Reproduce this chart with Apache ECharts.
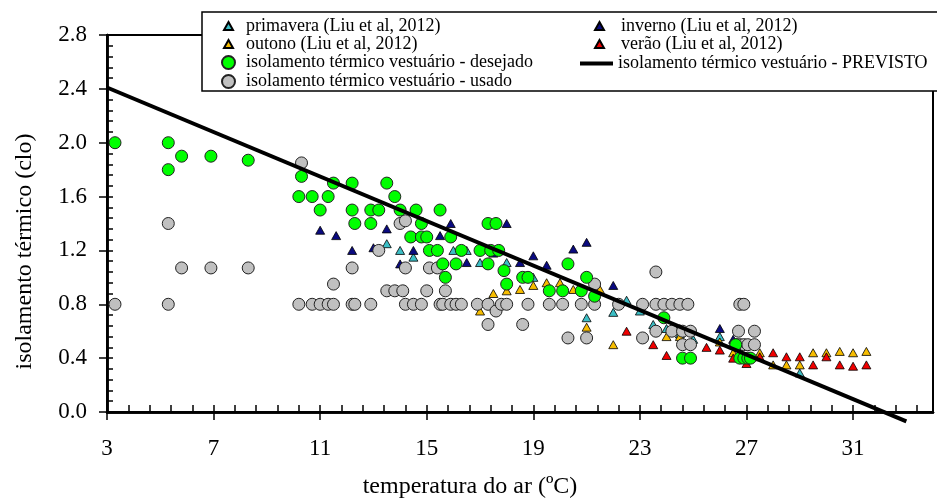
<!DOCTYPE html>
<html>
<head>
<meta charset="utf-8">
<script src="https://cdn.jsdelivr.net/npm/echarts@6/dist/echarts.min.js"></script>
<style>
  html, body { margin: 0; padding: 0; background: #fff; }
  #chart { width: 937px; height: 504px; }
</style>
</head>
<body>
<div id="chart"></div>
<script>
// primavera (Liu et al, 2012)
var primavera = [
  [13.5, 1.25], [14.0, 1.2], [14.5, 1.15], [16.0, 1.2], [16.5, 1.2], [17.0, 1.11],
  [18.0, 1.11], [19.0, 1.0], [21.0, 0.7], [22.0, 0.74], [22.5, 0.83], [23.0, 0.75],
  [23.5, 0.65], [24.0, 0.62], [24.5, 0.58], [25.0, 0.54], [26.0, 0.56], [26.5, 0.5],
  [29.0, 0.29]
];
// outono (Liu et al, 2012)
var outono = [
  [17.0, 0.75], [17.5, 0.88], [18.0, 0.9], [18.5, 0.91], [19.0, 0.94], [19.5, 0.96],
  [20.0, 0.96], [20.5, 0.91], [21.0, 0.63], [21.5, 0.91], [22.0, 0.5], [24.0, 0.56],
  [24.5, 0.56], [26.0, 0.52], [26.5, 0.44], [27.5, 0.44], [28.0, 0.35], [28.5, 0.35],
  [29.0, 0.35], [29.5, 0.44], [30.0, 0.44], [30.5, 0.45], [31.0, 0.44], [31.5, 0.45]
];
// inverno (Liu et al, 2012)
var inverno = [
  [11.0, 1.35], [11.6, 1.31], [12.2, 1.2], [13.0, 1.22], [13.5, 1.36], [14.0, 1.1],
  [14.5, 1.2], [15.5, 1.31], [15.9, 1.4], [16.5, 1.11], [17.5, 1.18], [18.0, 1.4],
  [18.5, 1.11], [19.0, 1.16], [19.5, 1.09], [20.5, 1.21], [21.0, 1.26], [22.0, 0.94],
  [26.0, 0.62], [26.5, 0.54]
];
// verão (Liu et al, 2012)
var verao = [
  [22.5, 0.6], [23.5, 0.5], [24.0, 0.42], [24.5, 0.62], [25.5, 0.48], [26.0, 0.46],
  [26.5, 0.4], [27.0, 0.36], [27.5, 0.41], [28.0, 0.44], [28.5, 0.41], [29.0, 0.41],
  [29.5, 0.35], [30.0, 0.41], [30.5, 0.35], [31.0, 0.34], [31.5, 0.35]
];
// isolamento térmico vestuário - desejado
var desejado = [
  [3.3, 2.0], [5.3, 2.0], [5.3, 1.8], [5.8, 1.9], [6.9, 1.9], [8.3, 1.87],
  [10.3, 1.75], [10.2, 1.6], [10.7, 1.6], [11.3, 1.6], [11.5, 1.7], [11.0, 1.5],
  [12.2, 1.7], [12.2, 1.5], [12.9, 1.5], [13.2, 1.5], [12.3, 1.4], [12.9, 1.4],
  [13.5, 1.7], [13.8, 1.6], [14.0, 1.5], [14.6, 1.5], [15.5, 1.5], [14.8, 1.4],
  [14.4, 1.3], [14.8, 1.3], [15.0, 1.3], [15.9, 1.3], [15.1, 1.2], [15.4, 1.2],
  [16.3, 1.2], [17.0, 1.2], [17.4, 1.2], [17.7, 1.2], [15.6, 1.1], [16.1, 1.1],
  [15.7, 1.0], [17.3, 1.4], [17.6, 1.4], [17.3, 1.1], [17.9, 1.05], [18.0, 0.95],
  [18.6, 1.0], [18.8, 1.0], [20.3, 1.1], [21.0, 1.0], [19.6, 0.9], [20.1, 0.9],
  [20.8, 0.9], [21.3, 0.86], [23.9, 0.7], [24.6, 0.4], [24.9, 0.4], [26.6, 0.5],
  [26.75, 0.4], [26.9, 0.4], [27.05, 0.4], [27.15, 0.4]
];
// isolamento térmico vestuário - usado
var usado = [
  [3.3, 0.8], [5.3, 1.4], [5.3, 0.8], [5.8, 1.07], [6.9, 1.07], [8.3, 1.07],
  [10.3, 1.85], [10.2, 0.8], [10.7, 0.8], [11.0, 0.8], [11.3, 0.8], [11.5, 0.8],
  [11.5, 0.95], [12.2, 0.8], [12.3, 0.8], [12.9, 0.8], [12.2, 1.07], [13.2, 1.2],
  [13.5, 0.9], [13.8, 0.9], [14.1, 0.9], [14.0, 1.4], [14.2, 1.42], [14.2, 1.07],
  [14.2, 0.8], [14.5, 0.8], [14.8, 0.8], [15.0, 0.9], [15.1, 1.07], [15.4, 1.07],
  [15.5, 0.8], [15.6, 0.8], [15.7, 0.9], [15.9, 0.8], [16.1, 0.8], [16.3, 0.8],
  [16.9, 0.8], [17.3, 0.8], [17.3, 0.65], [17.6, 0.75], [17.8, 0.8], [18.0, 0.8],
  [18.6, 0.65], [18.8, 0.8], [19.6, 0.8], [20.1, 0.8], [20.3, 0.55], [20.8, 0.8],
  [21.0, 0.55], [21.3, 0.8], [21.3, 0.95], [22.2, 0.8], [23.1, 0.8], [23.1, 0.55],
  [23.6, 1.04], [23.6, 0.8], [23.9, 0.8], [24.2, 0.8], [24.5, 0.8], [24.8, 0.8],
  [23.6, 0.6], [24.2, 0.6], [24.6, 0.6], [24.9, 0.6], [24.6, 0.5], [24.9, 0.5],
  [26.75, 0.8], [26.9, 0.8], [26.7, 0.6], [27.3, 0.6], [26.6, 0.5], [26.75, 0.5],
  [26.9, 0.5], [27.05, 0.5], [27.3, 0.5]
];
// isolamento térmico vestuário - PREVISTO
var previsto = [[3, 2.41], [33, -0.07]];

var xTicks = { min: 3, max: 34, step: 4, minorStep: 0.8 };
var yTicks = { min: 0, max: 2.8, step: 0.4, minorStep: 0.08 };

var font = "Liberation Serif";

function tri(name, data, color) {
  return {
    name: name,
    type: "scatter",
    data: data,
    symbol: "triangle",
    symbolSize: [9, 8],
    itemStyle: { color: color, borderColor: "#000", borderWidth: 0.8, opacity: 1 }
  };
}
function dot(name, data, color) {
  return {
    name: name,
    type: "scatter",
    data: data,
    symbol: "circle",
    symbolSize: 12,
    itemStyle: { color: color, borderColor: "#222", borderWidth: 1, opacity: 1 }
  };
}
function legend(names, left, top, w, h, lh, pad) {
  return {
    data: names,
    orient: "vertical",
    left: left,
    top: top,
    itemWidth: w,
    itemHeight: h,
    itemGap: 0,
    selectedMode: false,
    z: 110,
    padding: 0,
    textStyle: {
      fontFamily: font,
      fontSize: 18,
      color: "#000",
      lineHeight: lh,
      padding: [0, 0, 0, pad]
    }
  };
}

var option = {
  animation: false,
  backgroundColor: "#fff",
  grid: {
    left: 107,
    right: 4,
    top: 35,
    bottom: 89,
    show: true,
    backgroundColor: "transparent",
    borderColor: "#000",
    borderWidth: 2,
    containLabel: false
  },
  xAxis: [
    {
      type: "value",
      position: "bottom",
      min: xTicks.min,
      max: xTicks.max,
      interval: xTicks.step,
      name: "temperatura do ar (ºC)",
      nameLocation: "middle",
      nameGap: 63,
      nameTextStyle: { fontFamily: font, fontSize: 24, color: "#000", padding: [0, 100, 0, 0] },
      axisLine: { show: true, onZero: false, lineStyle: { color: "#000", width: 2.5 } },
      axisTick: { show: true, inside: false, length: 8, lineStyle: { color: "#000", width: 1.5 } },
      axisLabel: { fontFamily: font, fontSize: 23, color: "#000", margin: 25, showMaxLabel: false },
      splitLine: { show: false }
    },
    {
      // minor ticks pointing into the plot
      type: "value",
      position: "bottom",
      min: xTicks.min,
      max: xTicks.max,
      interval: xTicks.minorStep,
      axisLine: { show: true, onZero: false, lineStyle: { color: "#000", width: 2.5 } },
      axisTick: { show: true, inside: true, length: 7, lineStyle: { color: "#000", width: 1.5 } },
      axisLabel: { show: false },
      splitLine: { show: false }
    }
  ],
  yAxis: [
    {
      type: "value",
      position: "left",
      min: yTicks.min,
      max: yTicks.max,
      interval: yTicks.step,
      name: "isolamento térmico (clo)",
      nameLocation: "middle",
      nameGap: 70,
      nameTextStyle: { fontFamily: font, fontSize: 24, color: "#000", padding: [0, 56, 0, 0] },
      axisLine: { show: true, onZero: false, lineStyle: { color: "#000", width: 2.5 } },
      axisTick: { show: true, inside: false, length: 8, lineStyle: { color: "#000", width: 1.5 } },
      axisLabel: {
        fontFamily: font, fontSize: 23, color: "#000", margin: 20,
        formatter: function (v) { return v.toFixed(1); }
      },
      splitLine: { show: false }
    },
    {
      // minor ticks pointing into the plot
      type: "value",
      position: "left",
      min: yTicks.min,
      max: yTicks.max,
      interval: yTicks.minorStep,
      axisLine: { show: true, onZero: false, lineStyle: { color: "#000", width: 2.5 } },
      axisTick: { show: true, inside: true, length: 6, lineStyle: { color: "#000", width: 1.5 } },
      axisLabel: { show: false },
      splitLine: { show: false }
    }
  ],
  graphic: [
    {
      type: "rect",
      z: 100,
      shape: { x: 202, y: 12, width: 760, height: 79 },
      style: { fill: "#fff", stroke: "#000", lineWidth: 1.5 }
    }
  ],
  legend: [
    legend(["primavera (Liu et al, 2012)", "outono (Liu et al, 2012)"], 223, 17, 9, 8, 17, 8),
    legend(["isolamento térmico vestuário - desejado", "isolamento térmico vestuário - usado"], 221, 53, 13, 13, 19, 6),
    legend(["inverno (Liu et al, 2012)", "verão (Liu et al, 2012)"], 594, 17, 9, 8, 17, 12),
    legend([{ name: "isolamento térmico vestuário - PREVISTO", icon: "rect" }], 580, 54, 33, 4, 19, 0)
  ],
  series: [
    tri("primavera (Liu et al, 2012)", primavera, "#3cbfc6"),
    tri("outono (Liu et al, 2012)", outono, "#f7bd00"),
    tri("inverno (Liu et al, 2012)", inverno, "#0a0a80"),
    tri("verão (Liu et al, 2012)", verao, "#f00000"),
    dot("isolamento térmico vestuário - usado", usado, "#c0c0c0"),
    dot("isolamento térmico vestuário - desejado", desejado, "#00ff00"),
    {
      name: "isolamento térmico vestuário - PREVISTO",
      type: "line",
      xAxisIndex: 1,
      yAxisIndex: 1,
      data: previsto,
      symbol: "none",
      clip: false,
      lineStyle: { color: "#000", width: 4 },
      itemStyle: { color: "#000" },
      z: 5
    }
  ]
};

var chart = echarts.init(document.getElementById("chart"));
chart.setOption(option);
</script>
</body>
</html>
